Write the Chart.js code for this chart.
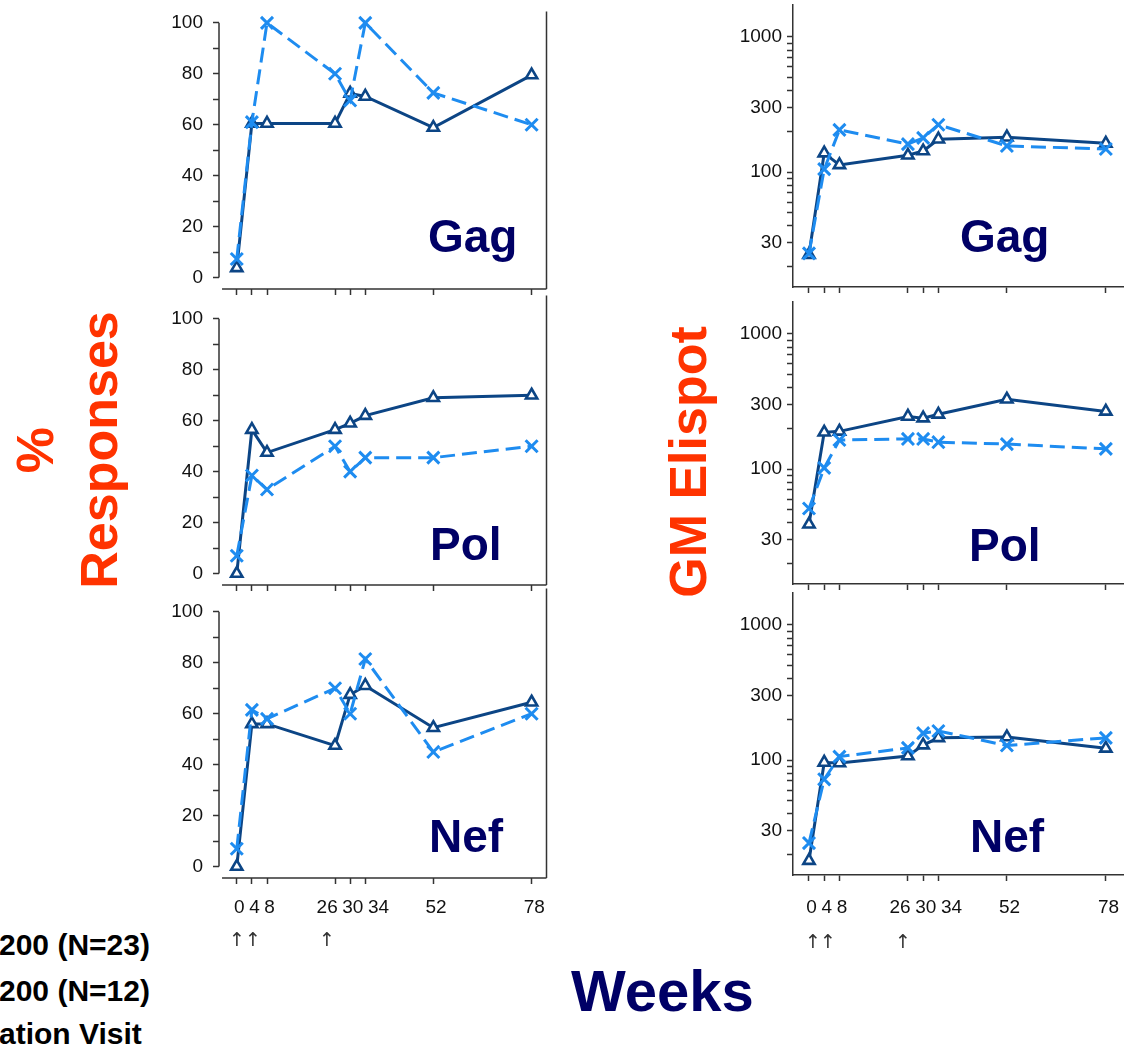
<!DOCTYPE html>
<html>
<head>
<meta charset="utf-8">
<title>Responses and GM Elispot by week</title>
<script src="https://cdn.jsdelivr.net/npm/chart.js"></script>
<style>
  html, body { margin: 0; padding: 0; background: #fff; }
  body { width: 1124px; height: 1055px; position: relative; overflow: hidden;
         font-family: "Liberation Sans", Arial, sans-serif; }
  canvas { position: absolute; }
  .lbl { position: absolute; line-height: 1; white-space: nowrap; font-weight: bold; }
  .panel-name { font-size: 46px; color: #000066; }
  .axis-title { font-size: 52px; color: #ff3300; transform: translate(-50%, -50%) rotate(-90deg); }
  .weeks { font-size: 58px; color: #000066; }
  .legend { font-size: 30px; color: #000; }
  .arrow { font-family: "DejaVu Sans", sans-serif; font-weight: normal; font-size: 19px; color: #333;
           transform: translate(-50%, -50%); }
</style>
</head>
<body>

<canvas id="pctGag" width="399" height="359" style="left:159px; top:-10px"></canvas>
<canvas id="pctPol" width="399" height="359" style="left:159px; top:286px"></canvas>
<canvas id="pctNef" width="399" height="359" style="left:159px; top:579px"></canvas>
<canvas id="gmGag" width="422" height="359" style="left:733px; top:-12px"></canvas>
<canvas id="gmPol" width="422" height="359" style="left:733px; top:285px"></canvas>
<canvas id="gmNef" width="422" height="359" style="left:733px; top:576px"></canvas>

<!-- panel names -->
<div class="lbl panel-name" style="left:428px; top:213px">Gag</div>
<div class="lbl panel-name" style="left:960px; top:213px">Gag</div>
<div class="lbl panel-name" style="left:430px; top:521px">Pol</div>
<div class="lbl panel-name" style="left:969px; top:522px">Pol</div>
<div class="lbl panel-name" style="left:429px; top:813px">Nef</div>
<div class="lbl panel-name" style="left:970px; top:813px">Nef</div>

<!-- axis titles -->
<div class="lbl axis-title" style="left:35px; top:450px">%</div>
<div class="lbl axis-title" style="left:99px; top:450px">Responses</div>
<div class="lbl axis-title" style="left:688px; top:462px">GM Elispot</div>
<div class="lbl weeks" style="left:571px; top:962px">Weeks</div>

<!-- legend lines, cut at the page edge -->
<div class="lbl legend" style="left:-1px; top:930px">200 (N=23)</div>
<div class="lbl legend" style="left:-1px; top:976px">200 (N=12)</div>
<div class="lbl legend" style="left:-1px; top:1019px">ation Visit</div>

<!-- vaccination arrows under weeks 0, 4 and 26 -->
<div class="lbl arrow" style="left:237px; top:939px">↑</div>
<div class="lbl arrow" style="left:253px; top:939px">↑</div>
<div class="lbl arrow" style="left:327px; top:939px">↑</div>
<div class="lbl arrow" style="left:813px; top:941px">↑</div>
<div class="lbl arrow" style="left:828px; top:941px">↑</div>
<div class="lbl arrow" style="left:903px; top:941px">↑</div>

<script>
// visit weeks and axis ticks
const weeks = [0, 4, 8, 26, 30, 34, 52, 78];
const weekLabels = ['0', '4', '8', '26', '30', '34', '52', '78'];
const pctTicks = [0, 10, 20, 30, 40, 50, 60, 70, 80, 90, 100];
const pctLabels = [0, 20, 40, 60, 80, 100];
const gmTicks = [20, 30, 40, 50, 60, 70, 80, 90, 100, 200, 300, 400, 500, 600, 700, 800, 900, 1000];
const gmLabels = [30, 100, 300, 1000];

// % responders (triangle = N=23 group, cross = N=12 group)
const pctGagTri = [3.8, 60.5, 60.5, 60.5, 72.3, 71.1, 58.9, 79.5];
const pctGagX   = [7.3, 61, 100, 80, 69.5, 100, 72.5, 60];
const pctPolTri = [0, 56.5, 47.5, 56.5, 59, 62, 69, 70];
const pctPolX   = [7, 38.5, 33, 50, 40, 45.5, 45.5, 50];
const pctNefTri = [0, 56, 56, 47.5, 67.5, 71, 54.5, 64.5];
const pctNefX   = [7, 61.5, 58, 70, 60, 81.5, 45, 60];

// geometric mean Elispot
const gmGagTri = [24.5, 138, 113, 133, 143, 175, 181, 163];
const gmGagX   = [25, 105, 205, 161, 179, 224, 156, 148];
const gmPolTri = [39, 187, 190, 245, 238, 254, 328, 267];
const gmPolX   = [51, 102, 164, 167, 167, 158, 153, 141];
const gmNefTri = [18, 96, 95, 107, 129, 146, 148, 122];
const gmNefX   = [24.3, 72, 106, 123, 158, 164, 128, 146];

const DARK = '#0c4585';
const LIGHT = '#1e8cf0';
const AXIS = '#333';
const FONT = '"Liberation Sans", Arial, sans-serif';

// spaces around a few week labels so the crowded 26/30/34 don't overlap
const labelPad = { 0: [1, 0], 4: [1, 0], 8: [1, 0], 26: [0, 3], 30: [1, 0], 34: [5, 0], 52: [1, 0], 78: [1, 0] };
function weekLabel(v) {
    const i = weeks.indexOf(v);
    if (i < 0) return '';
    const [a, b] = labelPad[v] || [0, 0];
    return ' '.repeat(a) + weekLabels[i] + ' '.repeat(b);
}

// % panels: y axis only spans 0..100, x axis starts a bit right, frame on the right
const offsetAxes = {
    id: 'offsetAxes',
    beforeDatasetsDraw(chart, args, o) {
        if (!o.enabled) return;
        const { ctx, chartArea: a, scales: { x, y } } = chart;
        ctx.save();
        ctx.strokeStyle = AXIS;
        ctx.lineWidth = 1.5;
        ctx.beginPath();
        ctx.moveTo(a.left, y.getPixelForValue(0));
        ctx.lineTo(a.left, y.getPixelForValue(100));
        ctx.moveTo(x.getPixelForValue(-3.9), a.bottom);
        ctx.lineTo(a.right, a.bottom);
        ctx.moveTo(a.right, a.top - o.frameExtend);
        ctx.lineTo(a.right, a.bottom);
        ctx.stroke();
        ctx.restore();
    }
};

function series(tri, crs) {
    return [
        {
            data: weeks.map((w, i) => ({ x: w, y: tri[i] })),
            borderColor: DARK, borderWidth: 3,
            pointStyle: 'triangle', pointRadius: 6.5, pointBorderWidth: 2.6,
            pointBackgroundColor: '#fff', pointBorderColor: DARK,
            order: 2, clip: false
        },
        {
            data: weeks.map((w, i) => ({ x: w, y: crs[i] })),
            borderColor: LIGHT, borderWidth: 3, borderDash: [15, 7],
            pointStyle: 'crossRot', pointRadius: 8.5, pointBorderWidth: 3,
            pointBorderColor: LIGHT, pointBackgroundColor: LIGHT,
            order: 1, clip: false
        }
    ];
}

function panel(id, tri, crs, log, bottom, frameExtend) {
    const tickFont = { family: FONT, size: 19 };
    return new Chart(document.getElementById(id), {
        type: 'line',
        data: { datasets: series(tri, crs) },
        options: {
            responsive: false,
            animation: false,
            devicePixelRatio: 1,
            layout: { padding: { top: 15, right: 10, left: 0, bottom: 0 } },
            elements: { line: { tension: 0 } },
            plugins: {
                legend: { display: false },
                tooltip: { enabled: false },
                offsetAxes: { enabled: !log, frameExtend: frameExtend }
            },
            scales: {
                x: {
                    type: 'linear',
                    min: log ? -4.2 : -4.7,
                    max: log ? 87.9 : 81.94,
                    afterBuildTicks: s => { s.ticks = weeks.map(v => ({ value: v })); },
                    afterFit: s => { s.height = 60; },
                    border: { display: log, color: AXIS, width: 1.5 },
                    grid: { drawOnChartArea: false, tickLength: 6, color: AXIS, tickColor: AXIS, tickWidth: 1.5 },
                    ticks: {
                        display: bottom, autoSkip: false, maxRotation: 0, minRotation: 0,
                        padding: log ? 15 : 12, color: '#111',
                        font: { family: FONT, size: 19 },
                        callback: v => weekLabel(v)
                    }
                },
                y: {
                    type: log ? 'logarithmic' : 'linear',
                    min: log ? 14.1 : -4.5,
                    max: log ? 1740 : 104.5,
                    afterBuildTicks: s => { s.ticks = (log ? gmTicks : pctTicks).map(v => ({ value: v })); },
                    afterFit: s => { s.width = 60; },
                    border: { display: log, color: AXIS, width: 1.5 },
                    grid: { drawOnChartArea: false, tickLength: 6, color: AXIS, tickColor: AXIS, tickWidth: 1.5 },
                    ticks: {
                        autoSkip: false, padding: log ? 5 : 10, color: '#111', font: tickFont,
                        callback: v => (log ? gmLabels : pctLabels).includes(v) ? String(v) : ''
                    }
                }
            }
        },
        plugins: [offsetAxes]
    });
}

panel('pctGag', pctGagTri, pctGagX, false, false, 0);
panel('pctPol', pctPolTri, pctPolX, false, false, 12);
panel('pctNef', pctNefTri, pctNefX, false, true, 12);
panel('gmGag', gmGagTri, gmGagX, true, false, 0);
panel('gmPol', gmPolTri, gmPolX, true, false, 0);
panel('gmNef', gmNefTri, gmNefX, true, true, 0);
</script>
</body>
</html>
